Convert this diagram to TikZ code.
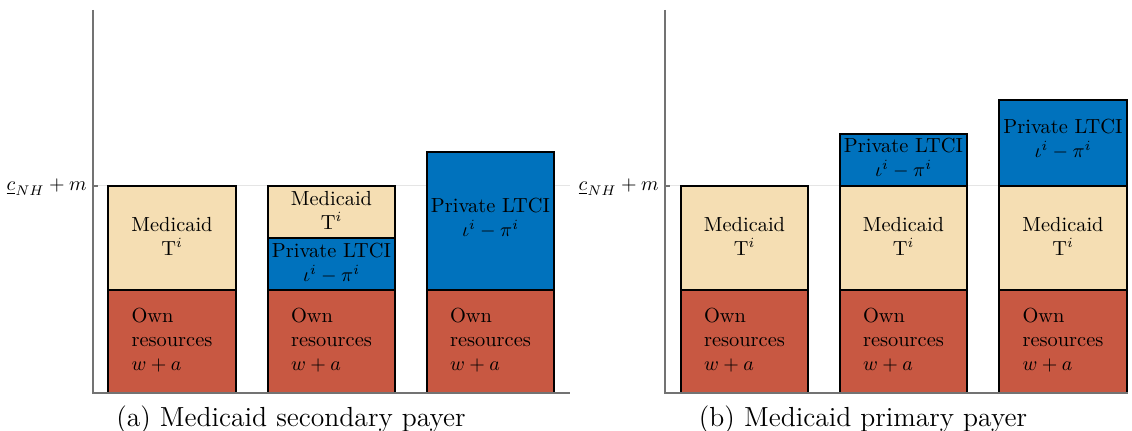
\documentclass[tikz,border=0pt]{standalone}
\usetikzlibrary{positioning}

\definecolor{ownres}{RGB}{200,88,66}
\definecolor{medicaid}{RGB}{245,222,179}
\definecolor{ltci}{RGB}{0,114,189}

\tikzset{
	seg/.style={draw=black, line width=0.75pt},
	axisline/.style={draw=black!55, line width=0.6pt},
	gridline/.style={draw=black!10, line width=0.5pt},
	txt/.style={align=center, inner sep=0pt, font=\fontsize{10.2}{12}\selectfont},
	owntxt/.style={align=left, inner sep=0pt, font=\fontsize{10.2}{12}\selectfont},
	capt/.style={anchor=base, inner sep=0pt, font=\fontsize{13.8}{16}\selectfont},
}

\begin{document}
\begin{tikzpicture}[x=0.5pt, y=-0.5pt]
	\useasboundingbox (0,0) rectangle (1132,431);
	% grid lines at the level c_NH + m
	\draw[gridline] (93,186) -- (570,186);
	\draw[gridline] (665,186) -- (1128,186);
	% own resources, bottom of every bar
	\foreach \xa/\xb/\n in {108/236/a1, 268/395/a2, 427/554/a3, 681/808/b1, 840/967/b2, 999/1127/b3} {
		\filldraw[seg, fill=ownres] (\xa,290) rectangle (\xb,393);
		\node[owntxt] (own\n) at ({(\xa+\xb)/2},340) {Own\\resources\\$w+a$};
	}
	% panel (a)
	\filldraw[seg, fill=medicaid] (108,186) rectangle (236,290);
	\node[txt] (mcaida1) at (172,236) {Medicaid\\T$^i$};
	\filldraw[seg, fill=ltci] (268,238) rectangle (395,290);
	\node[txt] (ltcia2) at (331.5,263) {Private LTCI\\$\iota^i-\pi^i$};
	\filldraw[seg, fill=medicaid] (268,186) rectangle (395,238);
	\node[txt] (mcaida2) at (331.5,210) {Medicaid\\T$^i$};
	\filldraw[seg, fill=ltci] (427,152) rectangle (554,290);
	\node[txt] (ltcia3) at (490.5,218) {Private LTCI\\$\iota^i-\pi^i$};
	% panel (b)
	\filldraw[seg, fill=medicaid] (681,186) rectangle (808,290);
	\node[txt] (mcaidb1) at (744.5,236) {Medicaid\\T$^i$};
	\filldraw[seg, fill=medicaid] (840,186) rectangle (967,290);
	\node[txt] (mcaidb2) at (903.5,236) {Medicaid\\T$^i$};
	\filldraw[seg, fill=ltci] (840,134) rectangle (967,186);
	\node[txt] (ltcib2) at (903.5,158) {Private LTCI\\$\iota^i-\pi^i$};
	\filldraw[seg, fill=medicaid] (999,186) rectangle (1127,290);
	\node[txt] (mcaidb3) at (1063,236) {Medicaid\\T$^i$};
	\filldraw[seg, fill=ltci] (999,100) rectangle (1127,186);
	\node[txt] (ltcib3) at (1063,139) {Private LTCI\\$\iota^i-\pi^i$};
	% axes
	\draw[axisline] (93,10) -- (93,393) -- (570,393);
	\draw[axisline] (93,186) -- (98,186);
	\draw[axisline] (665,10) -- (665,393) -- (1128,393);
	\draw[axisline] (665,186) -- (670,186);
	\node[txt, anchor=east] (ticka) at (87,187) {$\underline{c}_{NH}+m$};
	\node[txt, anchor=east] (tickb) at (659,187) {$\underline{c}_{NH}+m$};
	% captions
	\node[capt] (capa) at (291,427) {(a) Medicaid secondary payer};
	\node[capt] (capb) at (863,427) {(b) Medicaid primary payer};
\end{tikzpicture}
\end{document}
